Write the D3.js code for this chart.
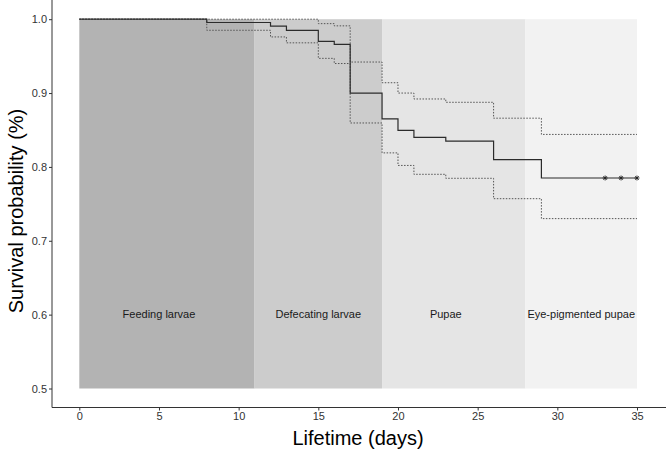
<!DOCTYPE html>
<html>
<head>
<meta charset="utf-8">
<script src="https://cdn.jsdelivr.net/npm/d3@7"></script>
<style>
  body { margin: 0; background: #fff; }
  svg { display: block; font-family: "Liberation Sans", Arial, sans-serif; }
</style>
</head>
<body>
<svg id="chart" width="666" height="450"></svg>
<script>
// survival curve steps (day, probability)
var days = [0, 8, 12, 13, 15, 16, 17, 19, 20, 21, 23, 26, 29, 35]
var surv = [1, 0.9955, 0.9905, 0.985, 0.970, 0.966, 0.900, 0.865, 0.8496, 0.840, 0.835, 0.810, 0.785, 0.785]
var upper = [1, 1, 1, 1, 0.994, 0.991, 0.942, 0.914, 0.900, 0.892, 0.8875, 0.866, 0.844, 0.844]
var lower = [1, 0.985, 0.976, 0.968, 0.947, 0.940, 0.8595, 0.819, 0.802, 0.790, 0.7846, 0.757, 0.730, 0.730]
var censorDays = [33, 34, 35]

// developmental stages
var stageNames = ["Feeding larvae", "Defecating larvae", "Pupae", "Eye-pigmented pupae"]
var stageStart = [0, 11, 19, 28]
var stageEnd = [11, 19, 28, 35]
var stageLabelX = [5, 15, 23, 31.5]
var stageFill = ["#b3b3b3", "#cccccc", "#e5e5e5", "#f2f2f2"]

var xTicks = [0, 5, 10, 15, 20, 25, 30, 35]
var yTicks = [0.5, 0.6, 0.7, 0.8, 0.9, 1.0]

var svg = d3.select("#chart")

var x = d3.scaleLinear().domain([0, 35]).range([79.3, 637])
var y = d3.scaleLinear().domain([0.5, 1]).range([388.5, 19.2])

// stage bands
svg.selectAll("rect.band")
    .data(stageNames)
    .enter().append("rect")
    .attr("class", "band")
    .attr("x", function(d, i) { return x(stageStart[i]) })
    .attr("width", function(d, i) { return x(stageEnd[i]) - x(stageStart[i]) })
    .attr("y", y(1))
    .attr("height", y(0.5) - y(1))
    .attr("fill", function(d, i) { return stageFill[i] })

svg.selectAll("text.band")
    .data(stageNames)
    .enter().append("text")
    .attr("class", "band")
    .attr("x", function(d, i) { return x(stageLabelX[i]) })
    .attr("y", y(0.6))
    .attr("dy", "0.35em")
    .attr("text-anchor", "middle")
    .attr("font-size", 11)
    .attr("fill", "#1a1a1a")
    .text(function(d) { return d })

function pts(vals) {
    return days.map(function(d, i) { return [d, vals[i]] })
}

var step = d3.line()
    .x(function(d) { return x(d[0]) })
    .y(function(d) { return y(d[1]) })
    .curve(d3.curveStepAfter)

// confidence band lines
svg.append("path")
    .attr("d", step(pts(upper)))
    .attr("fill", "none")
    .attr("stroke", "#555")
    .attr("stroke-width", 1)
    .attr("stroke-dasharray", "1.5,1.5")
svg.append("path")
    .attr("d", step(pts(lower)))
    .attr("fill", "none")
    .attr("stroke", "#555")
    .attr("stroke-width", 1)
    .attr("stroke-dasharray", "1.5,1.5")

// survival line
svg.append("path")
    .attr("d", step(pts(surv)))
    .attr("fill", "none")
    .attr("stroke", "#2b2b2b")
    .attr("stroke-width", 1.2)

// censor marks (small asterisks)
var lastS = surv[surv.length - 1]
svg.selectAll("path.censor")
    .data(censorDays)
    .enter().append("path")
    .attr("class", "censor")
    .attr("d", "M-2.5,0H2.5M0,-2.5V2.5M-1.8,-1.8L1.8,1.8M-1.8,1.8L1.8,-1.8")
    .attr("transform", function(d) { return "translate(" + x(d) + "," + y(lastS) + ")" })
    .attr("fill", "none")
    .attr("stroke", "#222")
    .attr("stroke-width", 0.9)

// axes
var xAxis = svg.append("g")
    .attr("transform", "translate(0,407.5)")
    .call(d3.axisBottom(x).tickValues(xTicks).tickSize(3).tickPadding(2))
xAxis.select(".domain").attr("d", "M52,0H666")

var yAxis = svg.append("g")
    .attr("transform", "translate(52,0)")
    .call(d3.axisLeft(y).tickValues(yTicks).tickFormat(d3.format(".1f")).tickSize(3).tickPadding(2))
yAxis.select(".domain").attr("d", "M0,0V407.5")

svg.selectAll(".tick text").attr("font-size", 11).attr("fill", "#333").attr("font-family", "Liberation Sans, Arial, sans-serif")
svg.selectAll(".tick line").attr("stroke", "#333")
svg.selectAll(".domain").attr("stroke", "#333")

// axis titles
svg.append("text")
    .attr("x", 358)
    .attr("y", 445)
    .attr("text-anchor", "middle")
    .attr("font-size", 20)
    .attr("fill", "#000")
    .text("Lifetime (days)")

svg.append("text")
    .attr("transform", "translate(23,211) rotate(-90)")
    .attr("text-anchor", "middle")
    .attr("font-size", 20)
    .attr("fill", "#000")
    .text("Survival probability (%)")
</script>
</body>
</html>
